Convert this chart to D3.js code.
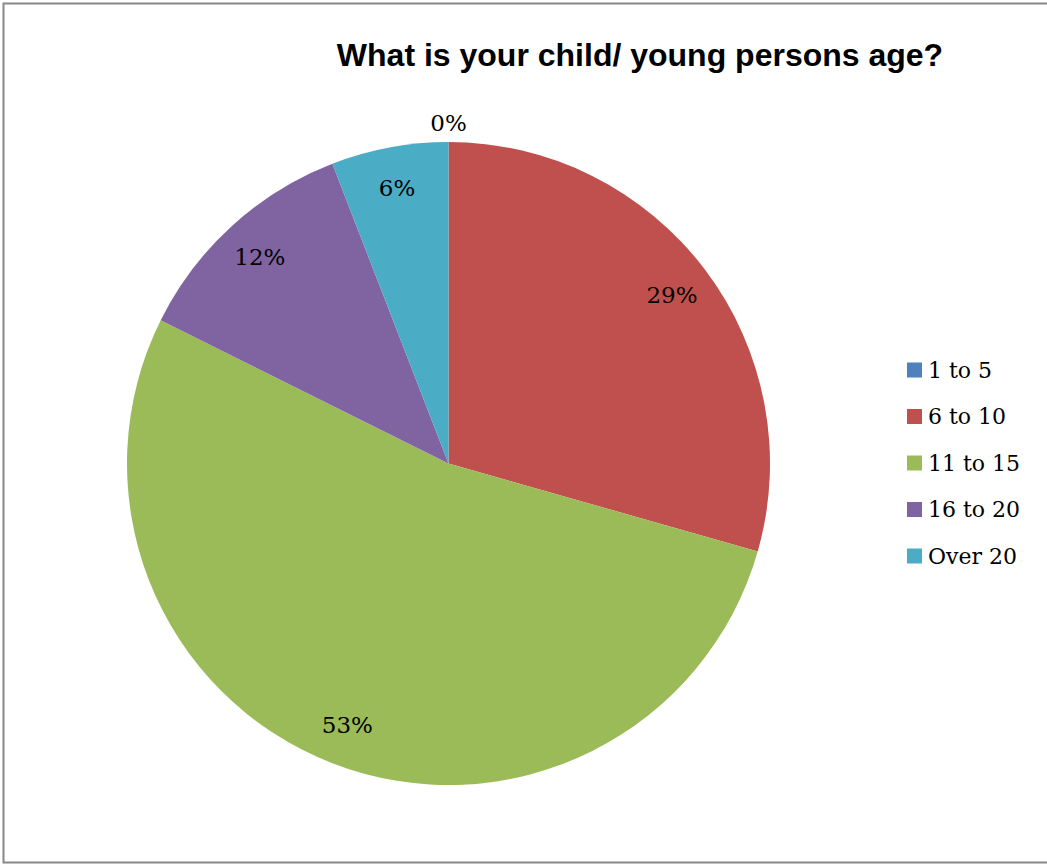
<!DOCTYPE html>
<html><head><meta charset="utf-8">
<script src="https://cdn.jsdelivr.net/npm/d3@7"></script>
<style>body{margin:0;background:#fff}svg{display:block}</style>
</head><body>
<svg id="c" width="1047" height="864"></svg>
<script>
const categories = ["1 to 5", "6 to 10", "11 to 15", "16 to 20", "Over 20"];
const counts = [0, 5, 9, 2, 1];
const colors = ["#4F81BD", "#C0504D", "#9BBB59", "#8064A2", "#4BACC6"];
const title = "What is your child/ young persons age?";

const svg = d3.select("#c");
svg.append("rect").attr("x",3.5).attr("y",3.5).attr("width",1060).attr("height",859)
  .attr("fill","#fff").attr("stroke","#878787").attr("stroke-width",2);

svg.append("text").attr("x",640).attr("y",66).attr("text-anchor","middle")
  .attr("font-family","Liberation Sans, Arial, sans-serif").attr("font-weight","bold")
  .attr("font-size",32).text(title);

const cx = 448.5, cy = 463.5, R = 321.5;
const total = d3.sum(counts);
const pie = d3.pie().sort(null).value(d=>d)(counts);
const arc = d3.arc().innerRadius(0).outerRadius(R);
const g = svg.append("g").attr("transform",`translate(${cx},${cy})`);
g.selectAll("path").data(pie).join("path").attr("d",arc).attr("fill",(d,i)=>colors[i]);

const labArc = d3.arc().innerRadius(280).outerRadius(280);
const outArc = d3.arc().innerRadius(341).outerRadius(341);
g.selectAll("text.lab").data(pie).join("text").attr("class","lab")
  .attr("transform",d=>{const c=(d.data===0?outArc:labArc).centroid(d);return `translate(${c[0]},${c[1]})`;})
  .attr("text-anchor","middle").attr("dy","0.35em")
  .attr("font-family","DejaVu Serif, serif").attr("font-size",23)
  .text(d=>Math.round(d.data/total*100)+"%");

const leg = svg.append("g").attr("transform","translate(907,370)");
const rows = leg.selectAll("g").data(categories).join("g").attr("transform",(d,i)=>`translate(0,${i*46.5})`);
rows.append("rect").attr("x",0).attr("y",-7.5).attr("width",15).attr("height",15).attr("fill",(d,i)=>colors[i]);
rows.append("text").attr("x",21).attr("dy","0.35em").attr("font-family","DejaVu Serif, serif").attr("font-size",22).text(d=>d);
</script>
</body></html>
